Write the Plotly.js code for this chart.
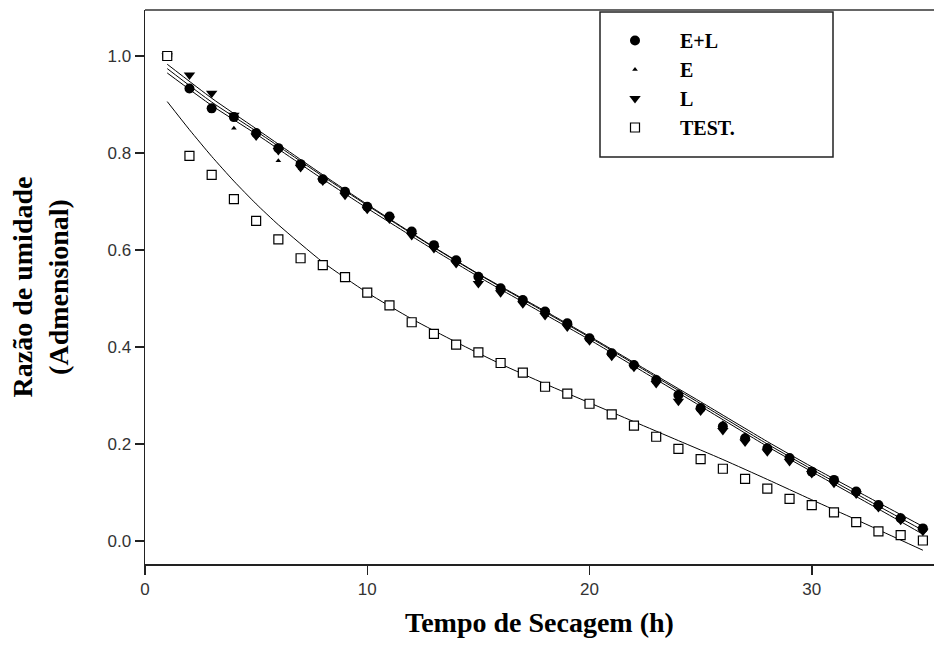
<!DOCTYPE html>
<html>
<head>
<meta charset="utf-8">
<script src="https://cdn.plot.ly/plotly-3.0.1.min.js"></script>
<style>html,body{margin:0;padding:0;background:#fff;}#chart{width:934px;height:655px;}</style>
</head>
<body>
<div id="chart"></div>
<script>
// Drying time (h)
const hours = [1,2,3,4,5,6,7,8,9,10,11,12,13,14,15,16,17,18,19,20,21,22,23,24,25,26,27,28,29,30,31,32,33,34,35];
// Observed moisture ratio
const mrEL = [1.0,0.933,0.892,0.874,0.841,0.810,0.777,0.746,0.720,0.689,0.669,0.638,0.610,0.579,0.545,0.521,0.497,0.473,0.449,0.418,0.387,0.363,0.332,0.301,0.274,0.236,0.212,0.191,0.171,0.143,0.126,0.102,0.074,0.047,0.026];
const mrE  = [1.0,0.928,0.885,0.851,0.835,0.784,0.768,0.744,0.716,0.690,0.671,0.641,0.612,0.583,0.550,0.525,0.500,0.476,0.453,0.422,0.392,0.368,0.338,0.308,0.279,0.244,0.219,0.196,0.175,0.149,0.130,0.106,0.079,0.053,0.030];
const mrL  = [1.0,0.961,0.923,0.878,0.835,0.805,0.770,0.742,0.713,0.684,0.664,0.630,0.603,0.572,0.531,0.512,0.489,0.465,0.441,0.413,0.381,0.358,0.325,0.288,0.268,0.228,0.204,0.184,0.164,0.139,0.119,0.097,0.069,0.043,0.020];
const mrTest = [1.0,0.794,0.755,0.705,0.660,0.622,0.583,0.569,0.544,0.512,0.486,0.451,0.427,0.405,0.389,0.367,0.347,0.318,0.304,0.283,0.261,0.238,0.215,0.190,0.169,0.149,0.128,0.108,0.087,0.074,0.059,0.039,0.020,0.012,0.001];
// Fitted curves
const fitX = [1,3,5,8,10,13,15,18,20,23,25,28,30,33,35];
const fitEL = [0.974,0.905,0.845,0.752,0.692,0.605,0.550,0.472,0.420,0.338,0.283,0.200,0.148,0.072,0.022];
const fitL  = [0.983,0.913,0.850,0.755,0.694,0.606,0.551,0.474,0.422,0.341,0.287,0.205,0.153,0.079,0.030];
const fitE  = [0.965,0.898,0.839,0.746,0.686,0.600,0.545,0.467,0.415,0.333,0.278,0.195,0.143,0.066,0.014];
const fitTestX = [1,2,3,4,5,6,8,10,12,14,16,18,20,22,24,26,28,30,32,34,35];
const fitTest  = [0.906,0.848,0.793,0.742,0.695,0.652,0.575,0.512,0.458,0.410,0.365,0.324,0.285,0.246,0.207,0.168,0.127,0.085,0.044,0.002,-0.019];
// Labels
const seriesNames = ['E+L','E','L','TEST.'];
const xTitle = 'Tempo de Secagem (h)';
const yTitle = 'Razão de umidade<br>(Admensional)';

const fitLine = {color:'#000', width:1, shape:'spline', smoothing:0.6};
const traces = [
  {x:fitX, y:fitL, mode:'lines', line:fitLine, showlegend:false, hoverinfo:'skip'},
  {x:fitX, y:fitEL, mode:'lines', line:fitLine, showlegend:false, hoverinfo:'skip'},
  {x:fitX, y:fitE, mode:'lines', line:fitLine, showlegend:false, hoverinfo:'skip'},
  {x:fitTestX, y:fitTest, mode:'lines', line:fitLine, showlegend:false, hoverinfo:'skip'},
  {x:hours, y:mrEL, name:seriesNames[0], mode:'markers', legendgroup:'a',
   marker:{symbol:'circle', size:10, color:'#000'}},
  {x:hours, y:mrE, name:seriesNames[1], mode:'markers', legendgroup:'b',
   marker:{symbol:'triangle-up', size:5, color:'#000'}},
  {x:hours, y:mrL, name:seriesNames[2], mode:'markers', legendgroup:'c',
   marker:{symbol:'triangle-down', size:10, color:'#000'}},
  {x:hours, y:mrTest, name:seriesNames[3], mode:'markers', legendgroup:'d',
   marker:{symbol:'square', size:9, color:'#fff', line:{color:'#000', width:1.2}}}
];

const W = 934, H = 655, ML = 145, MR = 0, MT = 10, MB = 91;
const pw = W - ML - MR, ph = H - MT - MB;
const px2x = p => (p - ML) / pw;
const py2y = p => (H - MB - p) / ph;

const titleFont = {family: 'Liberation Serif, Times New Roman, serif', size: 28, color: '#000', weight: 'bold'};
const tickFont = {family: 'Liberation Sans, Arial, sans-serif', size: 17, color: '#333'};

const layout = {
  width: W, height: H,
  margin: {l: ML, r: MR, t: MT, b: MB, pad: 0},
  paper_bgcolor: '#fff', plot_bgcolor: '#fff',
  showlegend: true,
  font: {family: 'Liberation Sans, Arial, sans-serif', color: '#222'},
  xaxis: {
    range: [0, 35.5], dtick: 10, tick0: 0,
    showgrid: false, zeroline: false,
    showline: true, linecolor: '#222', linewidth: 1.5,
    ticks: 'outside', ticklen: 9, tickwidth: 1.5, tickcolor: '#222',
    tickfont: tickFont,
    title: {text: xTitle, font: titleFont, standoff: 14}
  },
  yaxis: {
    range: [-0.0474, 1.0948], dtick: 0.2, tick0: 0, tickformat: '.1f',
    showgrid: false, zeroline: false,
    showline: true, linecolor: '#222', linewidth: 1.5,
    ticks: 'outside', ticklen: 9, tickwidth: 1.5, tickcolor: '#222',
    tickfont: tickFont,
    title: {text: yTitle, font: titleFont, standoff: 30}
  },
  legend: {
    x: px2x(590), y: py2y(21), xanchor: 'left', yanchor: 'top',
    bgcolor: 'rgba(0,0,0,0)', borderwidth: 0,
    itemwidth: 80, tracegroupgap: 0, traceorder: 'normal',
    font: {family: 'Liberation Serif, Times New Roman, serif', size: 20, color: '#000', weight: 'bold'}
  },
  shapes: [
    {type: 'line', xref: 'paper', yref: 'paper', x0: 0, x1: 1, y0: 1, y1: 1,
     line: {color: '#333', width: 1.5}},
    {type: 'rect', xref: 'paper', yref: 'paper', layer: 'below',
     x0: px2x(600), x1: px2x(833), y0: py2y(157), y1: py2y(12),
     line: {color: '#222', width: 1.5}, fillcolor: '#fff'}
  ]
};

Plotly.newPlot('chart', traces, layout, {displayModeBar: false, staticPlot: true});
</script>
</body>
</html>
